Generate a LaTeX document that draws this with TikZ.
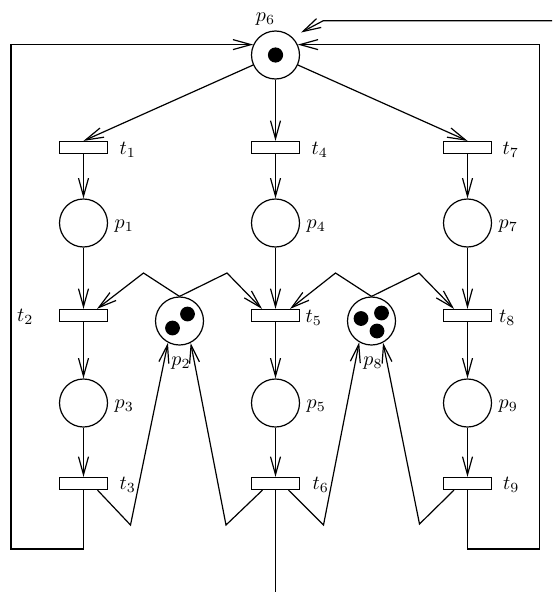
\documentclass[tikz,border=0pt]{standalone}
\usetikzlibrary{arrows.meta,calc}
\begin{document}
\begin{tikzpicture}[x=0.5pt,y=-0.5pt,
  line width=0.6pt,
  arr/.style={-{Straight Barb[length=9pt,width=5pt]}},
  place/.style={draw,circle,minimum size=24pt,inner sep=0pt},
  trans/.style={draw,rectangle,minimum width=24pt,minimum height=6pt,inner sep=0pt},
  lab/.style={inner sep=0pt},
  tok/.style={fill=black}]
\useasboundingbox (0,0) rectangle (552,594);

% places
\node[place] (p6) at (275.5,55) {};
\node[place] (p1) at (83.5,223) {};
\node[place] (p4) at (275.5,223) {};
\node[place] (p7) at (467.5,223) {};
\node[place] (p2) at (179.5,321) {};
\node[place] (p8) at (371.5,321) {};
\node[place] (p3) at (83.5,403) {};
\node[place] (p5) at (275.5,403) {};
\node[place] (p9) at (467.5,403) {};

% transitions
\node[trans] (t1) at (83.5,147.5) {};
\node[trans] (t4) at (275.5,147.5) {};
\node[trans] (t7) at (467.5,147.5) {};
\node[trans] (t2) at (83.5,315.5) {};
\node[trans] (t5) at (275.5,315.5) {};
\node[trans] (t8) at (467.5,315.5) {};
\node[trans] (t3) at (83.5,483.5) {};
\node[trans] (t6) at (275.5,483.5) {};
\node[trans] (t9) at (467.5,483.5) {};

% tokens
\fill[tok] (p6) circle (3.8pt);
\fill[tok] ($(p2)+(8,-7)$) circle (3.7pt);
\fill[tok] ($(p2)+(-7,7)$) circle (3.7pt);
\fill[tok] ($(p8)+(-10.5,-2.5)$) circle (3.7pt);
\fill[tok] ($(p8)+(10,-8)$) circle (3.7pt);
\fill[tok] ($(p8)+(5.5,10)$) circle (3.7pt);

% labels
\node[lab] (lp6) at (265.5,19) {$p_6$};
\node[lab,anchor=west] (lt1) at ($(t1.east)+(11,2)$) {$t_1$};
\node[lab,anchor=west] (lt4) at ($(t4.east)+(11,2)$) {$t_4$};
\node[lab,anchor=west] (lt7) at ($(t7.east)+(10,2)$) {$t_7$};
\node[lab,anchor=west] (lp1) at ($(p1.east)+(6,3.5)$) {$p_1$};
\node[lab,anchor=west] (lp4) at ($(p4.east)+(6,3.5)$) {$p_4$};
\node[lab,anchor=west] (lp7) at ($(p7.east)+(6,3.5)$) {$p_7$};
\node[lab,anchor=east] (lt2) at ($(t2.west)+(-25,1.5)$) {$t_2$};
\node[lab,anchor=west] (lt5) at ($(t5.east)+(5,2)$) {$t_5$};
\node[lab,anchor=west] (lt8) at ($(t8.east)+(6.5,2)$) {$t_8$};
\node[lab] (lp2) at ($(p2)+(1.5,42)$) {$p_2$};
\node[lab] (lp8) at ($(p8)+(1.5,42)$) {$p_8$};
\node[lab,anchor=west] (lp3) at ($(p3.east)+(6,3.5)$) {$p_3$};
\node[lab,anchor=west] (lp5) at ($(p5.east)+(6,3.5)$) {$p_5$};
\node[lab,anchor=west] (lp9) at ($(p9.east)+(6,3.5)$) {$p_9$};
\node[lab,anchor=west] (lt3) at ($(t3.east)+(11,1)$) {$t_3$};
\node[lab,anchor=west] (lt6) at ($(t6.east)+(12,1.5)$) {$t_6$};
\node[lab,anchor=west] (lt9) at ($(t9.east)+(10.5,1)$) {$t_9$};

% free ends and corners
\coordinate (in) at (552,20.7);
\coordinate (inbend) at (323.3,20.7);
\coordinate (out) at (275.5,592);
\coordinate (lb) at (11,549);
\coordinate (rb) at (539.5,549);

% p6 -> first row
\draw[arr] (p6) -- (t1.north);
\draw[arr] (p6) -- (t4.north);
\draw[arr] (p6) -- (t7.north);

% vertical chains
\draw[arr] (t1) -- (p1);
\draw[arr] (t4) -- (p4);
\draw[arr] (t7) -- (p7);
\draw[arr] (p1) -- (t2.north);
\draw[arr] (p4) -- (t5.north);
\draw[arr] (p7) -- (t8.north);
\draw[arr] (t2) -- (p3);
\draw[arr] (t5) -- (p5);
\draw[arr] (t8) -- (p9);
\draw[arr] (p3) -- (t3.north);
\draw[arr] (p5) -- (t6.north);
\draw[arr] (p9) -- (t9.north);

% resources p2, p8 to second row
\draw[arr] (p2.north) -- ($(p2)+(-36,-48)$) -- ($(t2.north)+(13.5,0)$);
\draw[arr] (p2.north) -- ($(p2)+(47.5,-48)$) -- ($(t5.north)+(-13.5,0)$);
\draw[arr] (p8.north) -- ($(p8)+(-36,-48)$) -- ($(t5.north)+(14.5,0)$);
\draw[arr] (p8.north) -- ($(p8)+(47.5,-48)$) -- ($(t8.north)+(-13.5,0)$);

% third row back to resources
\draw[arr] ($(t3.south)+(14,0)$) -- ($(p2)+(-49,204)$) -- (p2.-118);
\draw[arr] ($(t6.south)+(-13,0)$) -- ($(p2)+(46.5,204)$) -- (p2.-63);
\draw[arr] ($(t6.south)+(13,0)$) -- ($(p8)+(-48,204)$) -- (p8.-120);
\draw[arr] ($(t9.south)+(-13.5,0)$) -- ($(p8)+(48,203)$) -- (p8.-62);

% loops back to p6
\draw[arr] (t3.south) |- (lb) |- (p6.155);
\draw[arr] (t9.south) |- (rb) |- (p6.25);
\draw[arr] (in) -- (inbend) -- ($(p6)+(25.5,-22.5)$);

% output
\draw (t6.south) -- (out);
\end{tikzpicture}
\end{document}
